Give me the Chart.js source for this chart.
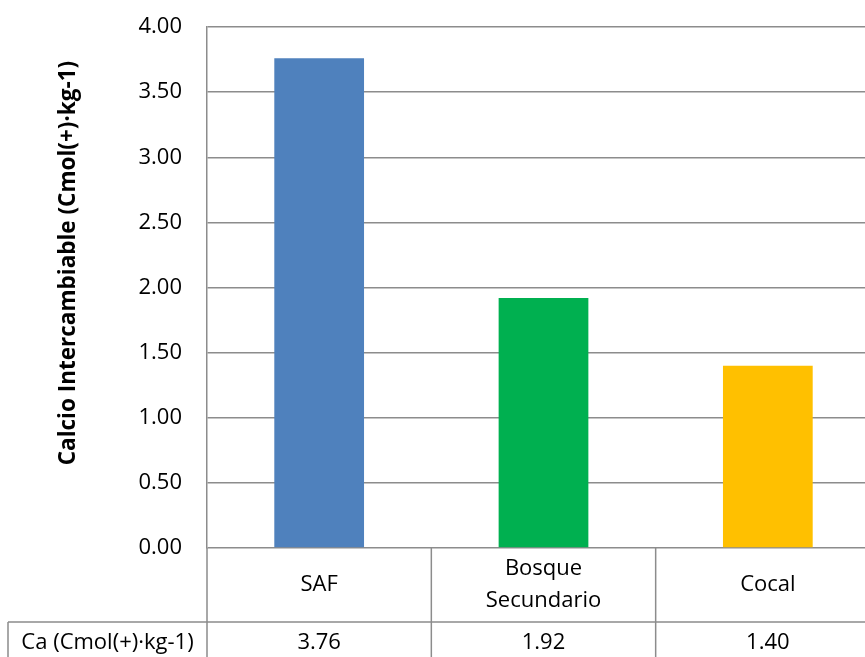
<!DOCTYPE html>
<html>
<head>
<meta charset="utf-8">
<script src="https://cdn.jsdelivr.net/npm/chart.js@4/dist/chart.umd.min.js"></script>
<style>
  html, body { margin: 0; padding: 0; background: #fff; overflow: hidden; }
  canvas { display: block; }
</style>
</head>
<body>
<canvas id="chart" width="880" height="657"></canvas>
<script>
// Categories (multi-line labels for the data table header)
const categories = [['SAF'], ['Bosque', 'Secundario'], ['Cocal']];
// Exchangeable calcium per land use
const calcio = [3.76, 1.92, 1.40];
const barColors = ['#4F81BD', '#00B050', '#FFC000'];
const rowLabel = 'Ca (Cmol(+)·kg-1)';
const axisTitle = 'Calcio Intercambiable (Cmol(+)·kg-1)';
const yMin = 0, yMax = 4, yStep = 0.5;

const FONT = '"Open Sans", "Liberation Sans", sans-serif';
const LINE = '#8c8c8c';

// Draws the data table under the plot and the rotated y-axis title
const dataTable = {
  id: 'dataTable',
  afterDraw(chart) {
    const { ctx, chartArea: ca } = chart;
    const xs = chart.scales.x;
    const n = categories.length;
    const colW = (xs.right - xs.left) / n;
    const headerH = 74;
    const rowTop = ca.bottom + headerH;
    const bottom = chart.height;
    const labelLeft = 8;

    ctx.save();
    ctx.strokeStyle = LINE;
    ctx.lineWidth = 1.5;
    ctx.beginPath();
    // left axis continues down through the table
    ctx.moveTo(ca.left, ca.bottom);
    ctx.lineTo(ca.left, bottom);
    // column separators
    for (let i = 0; i < n; i++) {
      const x = xs.getPixelForValue(i) + colW / 2;
      ctx.moveTo(x, ca.bottom);
      ctx.lineTo(x, bottom);
    }
    // value row top border
    ctx.moveTo(labelLeft, rowTop);
    ctx.lineTo(xs.right, rowTop);
    // row label cell left border
    ctx.moveTo(labelLeft, rowTop);
    ctx.lineTo(labelLeft, bottom);
    ctx.stroke();

    ctx.fillStyle = '#000';
    ctx.font = '22px ' + FONT;
    ctx.textAlign = 'center';
    ctx.textBaseline = 'middle';
    const lh = 32;
    const headMid = ca.bottom + headerH / 2;
    categories.forEach((lines, i) => {
      const cx = xs.getPixelForValue(i);
      const y0 = headMid - (lines.length - 1) * lh / 2;
      lines.forEach((t, k) => ctx.fillText(t, cx, y0 + k * lh));
      ctx.fillText(calcio[i].toFixed(2), cx, rowTop + 21);
    });
    ctx.fillText(rowLabel, (labelLeft + ca.left) / 2, rowTop + 21);

    // rotated axis title
    ctx.font = 'bold 22.5px ' + FONT;
    ctx.translate(69, 263);
    ctx.rotate(-Math.PI / 2);
    ctx.fillText(axisTitle, 0, 0);
    ctx.restore();
  }
};

new Chart(document.getElementById('chart'), {
  type: 'bar',
  data: {
    labels: categories.map(l => l.join(' ')),
    datasets: [{
      data: calcio,
      backgroundColor: barColors,
      borderWidth: 0,
      categoryPercentage: 1,
      barPercentage: 0.4
    }]
  },
  options: {
    responsive: false,
    animation: false,
    layout: { padding: { top: 27, right: 0, bottom: 109, left: 0 } },
    plugins: { legend: { display: false }, tooltip: { enabled: false } },
    scales: {
      x: {
        grid: { display: false, drawTicks: false },
        border: { display: false },
        ticks: { display: false }
      },
      y: {
        min: yMin,
        max: yMax,
        afterFit(scale) {
          scale.width = 207;
          scale.paddingTop = 0;
          scale.paddingBottom = 0;
        },
        ticks: {
          stepSize: yStep,
          padding: 25,
          color: '#000',
          font: { family: FONT, size: 22 },
          callback: v => Number(v).toFixed(2)
        },
        grid: { color: LINE, lineWidth: 1.5, drawTicks: false },
        border: { display: true, color: LINE, width: 1.5 }
      }
    }
  },
  plugins: [dataTable]
});
</script>
</body>
</html>
